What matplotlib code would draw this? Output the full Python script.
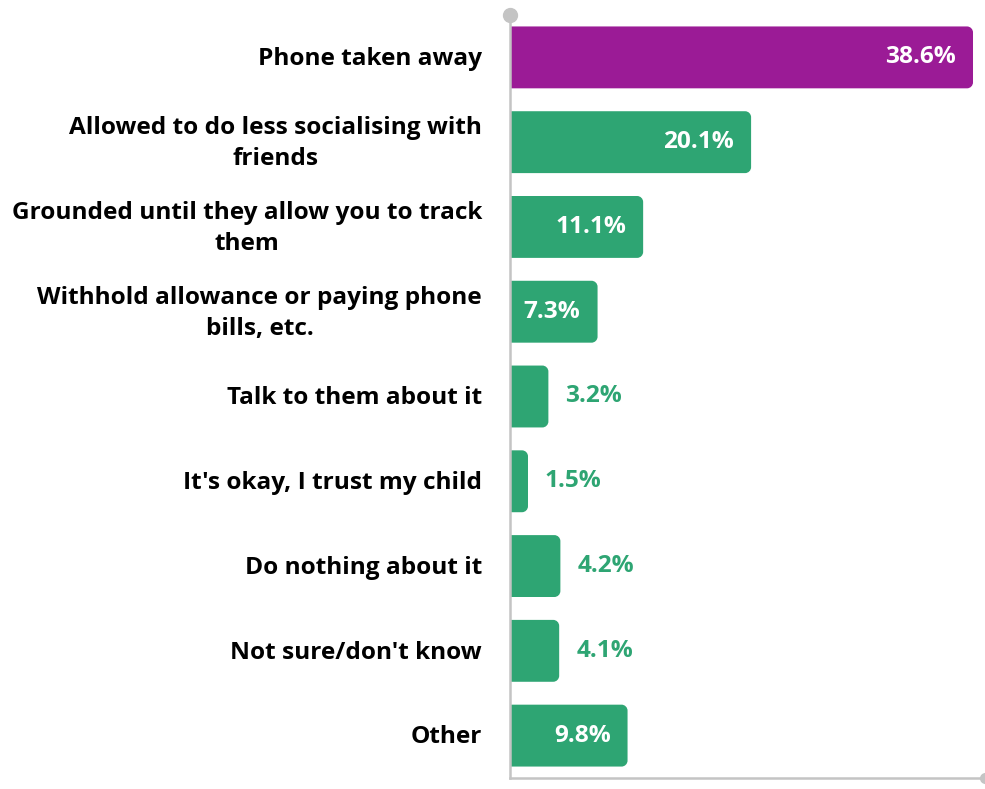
import matplotlib
matplotlib.use("Agg")
import matplotlib.pyplot as plt
from matplotlib.path import Path
from matplotlib.patches import PathPatch

categories = [
    "Phone taken away",
    "Allowed to do less socialising with\nfriends",
    "Grounded until they allow you to track\nthem",
    "Withhold allowance or paying phone\nbills, etc.",
    "Talk to them about it",
    "It's okay, I trust my child",
    "Do nothing about it",
    "Not sure/don't know",
    "Other",
]
values = [38.6, 20.1, 11.1, 7.3, 3.2, 1.5, 4.2, 4.1, 9.8]
highlight = "Phone taken away"

PURPLE = "#9B1B96"
GREEN = "#2EA573"
AXIS_GRAY = "#C4C4C4"

plt.rcParams["font.family"] = ["Open Sans", "DejaVu Sans"]
FS = 17.6

W, H = 985, 789
fig = plt.figure(figsize=(W / 100, H / 100), dpi=100)
ax = fig.add_axes([510 / W, 1 - 778 / H, (W - 510) / W, (778 - 15) / H])

xmax = 39.6
ax.set_xlim(0, xmax)
ax.set_ylim(len(categories) - 0.5, -0.5)

# bar height and corner radius in data units
bar_h = 0.73
px_x = (W - 510) / xmax
px_y = (778 - 15) / len(categories)
rx, ry = 6 / px_x, 6 / px_y


def rounded_bar(y, width, color):
    """Horizontal bar with rounded corners on the right end only."""
    top, bot = y - bar_h / 2, y + bar_h / 2
    r_x = min(rx, width / 2)
    k = 0.5523
    verts = [
        (0, top),
        (width - r_x, top),
        (width - r_x + k * r_x, top), (width, top + ry - k * ry), (width, top + ry),
        (width, bot - ry),
        (width, bot - ry + k * ry), (width - r_x + k * r_x, bot), (width - r_x, bot),
        (0, bot),
        (0, top),
    ]
    codes = [Path.MOVETO, Path.LINETO,
             Path.CURVE4, Path.CURVE4, Path.CURVE4,
             Path.LINETO,
             Path.CURVE4, Path.CURVE4, Path.CURVE4,
             Path.LINETO, Path.CLOSEPOLY]
    ax.add_patch(PathPatch(Path(verts, codes), facecolor=color, edgecolor="none"))


for i, (cat, val) in enumerate(zip(categories, values)):
    color = PURPLE if cat == highlight else GREEN
    rounded_bar(i, val, color)
    label = f"{val:.1f}%"
    if val > 6:
        ax.text(val - 17 / px_x, i, label, ha="right", va="center",
                color="white", fontsize=FS, fontweight="bold")
    else:
        ax.text(val + 17 / px_x, i, label, ha="left", va="center",
                color=color, fontsize=FS, fontweight="bold")
    ax.text(-28 / px_x, i + 0.02, cat, ha="right", va="center", multialignment="center",
            color="black", fontsize=FS, fontweight="bold", linespacing=1.4)

for side in ["top", "right"]:
    ax.spines[side].set_visible(False)
for side in ["left", "bottom"]:
    ax.spines[side].set_color(AXIS_GRAY)
    ax.spines[side].set_linewidth(1.8)
ax.set_xticks([])
ax.set_yticks([])

# round end caps on the axis lines
ax.plot([0], [-0.5], marker="o", markersize=10, color=AXIS_GRAY,
        clip_on=False, zorder=5)
ax.plot([xmax], [len(categories) - 0.5], marker="o", markersize=7,
        color=AXIS_GRAY, clip_on=False, zorder=5)

fig.savefig("out.png", dpi=100)
